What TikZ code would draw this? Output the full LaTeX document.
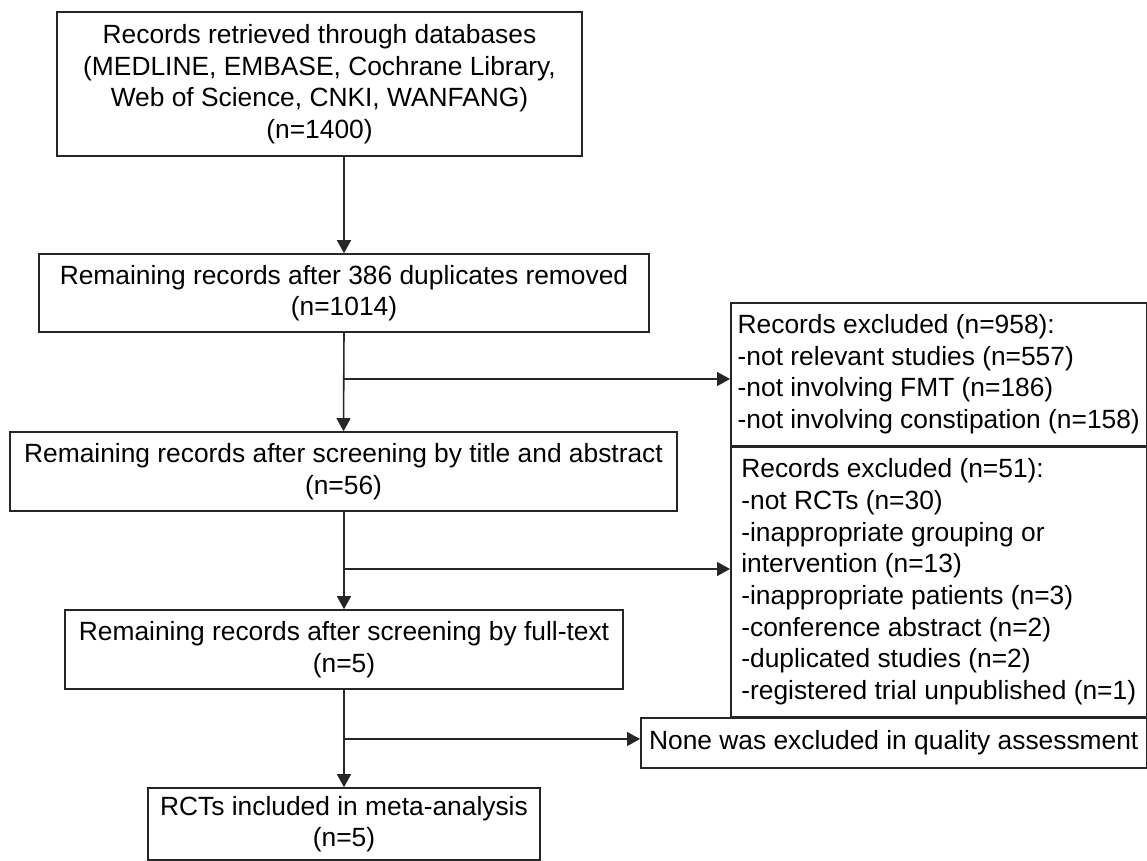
\documentclass[tikz,border=0pt]{standalone}
\usepackage{fontspec}
\setmainfont{Liberation Sans}
\usetikzlibrary{arrows.meta,positioning}

\tikzset{
  stage/.style={draw=black!85, line width=0.9pt, align=center, inner sep=0pt,
                font=\fontsize{15}{18}\selectfont},
  excl/.style={stage, align=left, minimum width=8.32cm, anchor=north west},
  flow/.style={draw=black!85, line width=0.9pt, -{Triangle[length=2.6mm,width=2.8mm]}},
}

\begin{document}
\begin{tikzpicture}[x=0.02cm, y=-0.02cm]
	\useasboundingbox (0,0) rectangle (1147,861);
	% main column
	\node[stage, minimum width=10.5cm, minimum height=2.88cm] (found) at (319.5,84)
		{Records retrieved through databases\\(MEDLINE, EMBASE, Cochrane Library,\\Web of Science, CNKI, WANFANG)\\(n=1400)};
	\node[stage, minimum width=12.2cm, minimum height=1.56cm] (dedup) at (344,293)
		{Remaining records after 386 duplicates removed\\(n=1014)};
	\node[stage, minimum width=13.34cm, minimum height=1.58cm] (title) at (343.5,471.5)
		{Remaining records after screening by title and abstract\\(n=56)};
	\node[stage, minimum width=11.16cm, minimum height=1.58cm] (full) at (344,649.5)
		{Remaining records after screening by full-text\\(n=5)};
	\node[stage, minimum width=7.84cm, minimum height=1.44cm] (incl) at (344,824)
		{RCTs included in meta-analysis\\(n=5)};
	% exclusions on the right
	\node[excl, minimum height=2.86cm] (out1) at (730,302)
		{Records excluded (n=958):\\-not relevant studies (n=557)\\-not involving FMT (n=186)\\-not involving constipation (n=158)};
	\node[excl, minimum height=5.38cm] (out2) at (out1.south west)
		{Records excluded (n=51):\\-not RCTs (n=30)\\-inappropriate grouping or\\intervention (n=13)\\-inappropriate patients (n=3)\\-conference abstract (n=2)\\-duplicated studies (n=2)\\-registered trial unpublished (n=1)};
	\node[stage, minimum width=10.12cm, minimum height=1cm, anchor=north east] (qual) at (out2.south east)
		{None was excluded in quality assessment};
	% arrows down the column
	\draw[flow] (found.south -| dedup.north) -- (dedup.north);
	\draw[flow] (dedup.south) -- (title.north);
	\draw[flow] (title.south -| full.north) -- (full.north);
	\draw[flow] (full.south) -- (incl.north);
	% side branches
	\coordinate (b1) at (344,379);
	\coordinate (b2) at (344,569);
	\coordinate (b3) at (344,739);
	\draw[flow] (b1) -- (b1 -| out1.west);
	\draw[flow] (b2) -- (b2 -| out2.west);
	\draw[flow] (b3) -- (b3 -| qual.west);
\end{tikzpicture}
\end{document}
